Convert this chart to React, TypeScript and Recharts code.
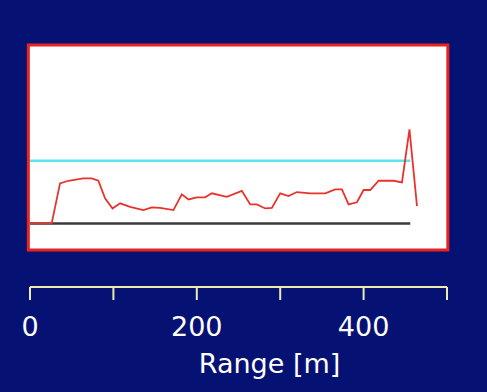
import React from "react";
import { LineChart, Line, XAxis, YAxis, ReferenceArea } from "recharts";

// range along the profile [m] and the return level
const rangeM = [0, 26, 36, 46, 64, 74, 82, 90, 99, 108, 120, 136, 146, 156, 172, 182, 190, 200, 210, 218, 236, 254, 264, 272, 282, 290, 300, 310, 320, 336, 354, 366, 374, 382, 392, 400, 408, 418, 436, 446, 455, 464];
const level = [13, 13, 32.5, 33.8, 35, 35, 33.8, 25.2, 20.3, 22.8, 21.1, 19.5, 20.8, 20.6, 19.5, 27.2, 24.7, 25.7, 25.7, 27.7, 26.0, 28.9, 22.3, 22.3, 20.3, 20.6, 27.7, 26.3, 28.3, 27.7, 27.7, 29.6, 29.6, 22.3, 23.3, 29.3, 29.3, 33.8, 33.8, 33.0, 58.9, 21.5];

const thresholdRange = [0, 456];
const thresholdLevel = 43.6;
const floorRange = [0, 456];
const floorLevel = 13;

const xTicks = [0, 100, 200, 300, 400, 500];
const labelledTicks = [0, 200, 400];

const trace = rangeM.map((x, i) => ({ x, y: level[i] }));
const threshold = thresholdRange.map((x) => ({ x, y: thresholdLevel }));
const floor = floorRange.map((x) => ({ x, y: floorLevel }));

const FONT = "'DejaVu Sans', sans-serif";
const AXIS_YELLOW = "#ecebb0";

const AxisTitle = ({ viewBox }: { viewBox?: { x: number; y: number; width: number } }) => {
  if (!viewBox) return null;
  return (
    <text
      x={viewBox.x + viewBox.width / 2 + 31}
      y={viewBox.y + 86}
      textAnchor="middle"
      fill="#ffffff"
      fontSize={27}
      fontFamily={FONT}
    >
      Range [m]
    </text>
  );
};

export default function App() {
  return (
    <div style={{ position: "absolute", left: 0, top: 0, width: 487, height: 392, background: "#061273" }}>
      <LineChart width={487} height={392} margin={{ top: 45, right: 40, bottom: 0, left: 30 }}>
        <XAxis
          dataKey="x"
          type="number"
          domain={[0, 500]}
          ticks={xTicks}
          allowDataOverflow
          height={105}
          axisLine={{ stroke: AXIS_YELLOW, strokeWidth: 2 }}
          tickLine={{ stroke: AXIS_YELLOW, strokeWidth: 2 }}
          tickSize={13}
          tickMargin={17}
          tick={{ fill: "#ffffff", fontSize: 27, fontFamily: FONT }}
          tickFormatter={(v: number) => (labelledTicks.includes(v) ? String(v) : "")}
          label={<AxisTitle />}
        />
        <YAxis hide type="number" domain={[-18, 100]} allowDataOverflow />
        <ReferenceArea
          x1={-2}
          x2={501}
          y1={0}
          y2={100}
          fill="#ffffff"
          fillOpacity={1}
          stroke="#e8231e"
          strokeWidth={3}
          ifOverflow="visible"
        />
        <Line data={floor} dataKey="y" stroke="#3a3a3a" strokeWidth={2.5} dot={false} isAnimationActive={false} />
        <Line data={threshold} dataKey="y" stroke="#5ce6f0" strokeWidth={2.5} dot={false} isAnimationActive={false} />
        <Line data={trace} dataKey="y" stroke="#e8332c" strokeWidth={1.8} dot={false} isAnimationActive={false} />
      </LineChart>
    </div>
  );
}
